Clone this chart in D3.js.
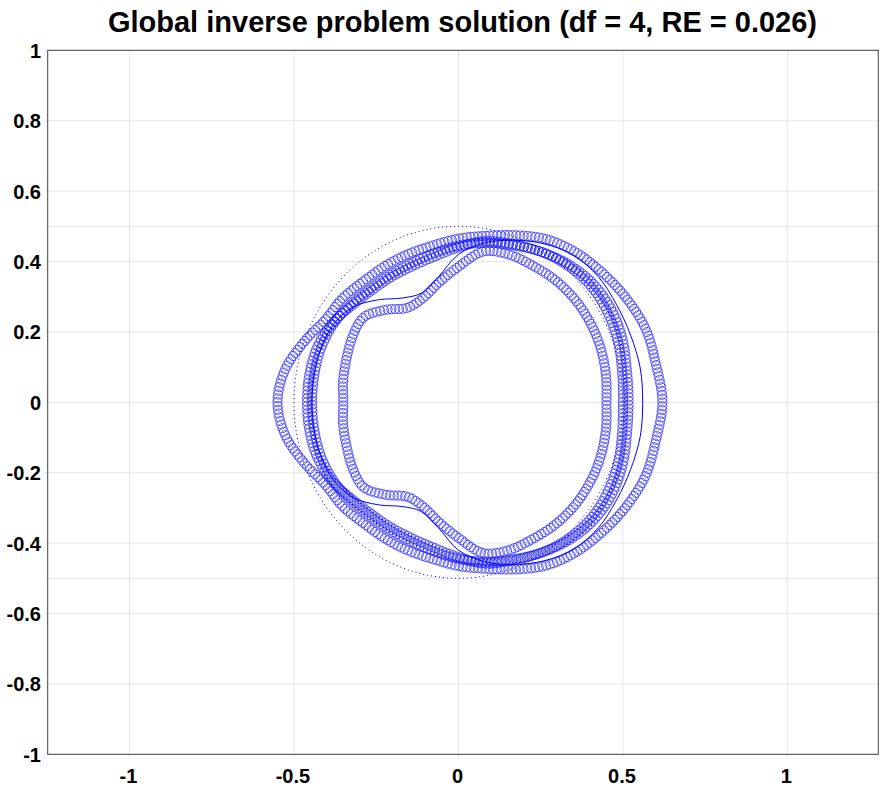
<!DOCTYPE html>
<html><head><meta charset="utf-8">
<script src="https://cdn.jsdelivr.net/npm/d3@7"></script>
<style>body{margin:0;background:#fff}svg{display:block}</style>
</head><body>
<svg id="chart" width="881" height="789"></svg>
<script>
// Title
const titleText = "Global inverse problem solution (df = 4, RE = 0.026)";
const angles = [0,10,20,30,40,50,60,70,80,90,100,110,120,130,140,150,160,170,180,190,200,210,220,230,240,250,260,270,280,290,300,310,320,330,340,350];
// Reconstruction curves (circle markers)
const outerCurve = [0.62,0.61,0.606,0.59,0.572,0.556,0.535,0.505,0.48,0.465,0.452,0.448,0.447,0.449,0.46,0.468,0.50,0.535,0.55,0.535,0.50,0.468,0.46,0.449,0.447,0.448,0.452,0.465,0.48,0.505,0.535,0.556,0.572,0.59,0.606,0.61];
const bandCurveA = [0.517,0.52,0.53,0.535,0.53,0.515,0.495,0.478,0.465,0.44,0.42,0.411,0.41,0.413,0.425,0.445,0.457,0.46,0.46,0.46,0.457,0.445,0.425,0.413,0.41,0.411,0.42,0.44,0.465,0.478,0.495,0.515,0.53,0.535,0.53,0.52];
const bandCurveB = [0.50,0.505,0.515,0.52,0.52,0.51,0.495,0.475,0.46,0.445,0.43,0.42,0.418,0.42,0.43,0.44,0.445,0.445,0.445,0.445,0.445,0.44,0.43,0.42,0.418,0.42,0.43,0.445,0.46,0.475,0.495,0.51,0.52,0.52,0.515,0.505];
const innerCurve = [0.45,0.455,0.459,0.46,0.459,0.455,0.449,0.447,0.435,0.385,0.345,0.315,0.31,0.343,0.376,0.372,0.362,0.356,0.35,0.356,0.362,0.372,0.376,0.343,0.31,0.315,0.345,0.385,0.435,0.447,0.449,0.455,0.459,0.46,0.459,0.455];
// True boundary (thin solid line)
const trueCurve = [0.56,0.561,0.557,0.555,0.555,0.545,0.52,0.49,0.46,0.42,0.36,0.33,0.342,0.38,0.42,0.44,0.445,0.445,0.445,0.445,0.445,0.44,0.42,0.38,0.342,0.33,0.36,0.42,0.46,0.49,0.52,0.545,0.555,0.555,0.557,0.561];
// Initial guess (dotted circle)
const initialCurve = [0.5,0.5,0.5,0.5,0.5,0.5,0.5,0.5,0.5,0.5,0.5,0.5,0.5,0.5,0.5,0.5,0.5,0.5,0.5,0.5,0.5,0.5,0.5,0.5,0.5,0.5,0.5,0.5,0.5,0.5,0.5,0.5,0.5,0.5,0.5,0.5];
// Axes
const xTicks = [-1,-0.5,0,0.5,1];
const yTicks = [-1,-0.8,-0.6,-0.4,-0.2,0,0.2,0.4,0.6,0.8,1];
const yExtraGrid = [-0.5,0.5];
const xDomain = [-1.2485,1.2762];
const yDomain = [-1,1];

const svg = d3.select("#chart");
const L = 47.7, R = 878.3, T = 50.3, B = 754.3;
const xs = d3.scaleLinear().domain(xDomain).range([L,R]);
const ys = d3.scaleLinear().domain(yDomain).range([B,T]);
const FONT = "Liberation Sans, Arial, sans-serif";

svg.append("text").attr("x",462.5).attr("y",32).attr("text-anchor","middle")
  .attr("font-family",FONT).attr("font-weight","bold")
  .attr("font-size",29).text(titleText);

const grid = svg.append("g").attr("stroke","#e6e6e6").attr("stroke-width",1);
xTicks.forEach(v=>grid.append("line").attr("x1",xs(v)).attr("x2",xs(v)).attr("y1",T).attr("y2",B+3));
yTicks.concat(yExtraGrid).forEach(v=>grid.append("line").attr("y1",ys(v)).attr("y2",ys(v)).attr("x1",L-3).attr("x2",R));

const lbl = svg.append("g").attr("font-family",FONT).attr("font-weight","bold").attr("font-size",20).attr("fill","#000");
xTicks.forEach(v=>lbl.append("text").attr("x",xs(v)-1).attr("y",783).attr("text-anchor","middle").text(String(v)));
yTicks.forEach(v=>lbl.append("text").attr("x",41).attr("y",ys(v)+7.5).attr("text-anchor","end").text(String(v)));

function pts(radii){
  return angles.map((a,i)=>{const t=a*Math.PI/180;return [xs(radii[i]*Math.cos(t)), ys(radii[i]*Math.sin(t))];});
}
const lineGen = d3.line().curve(d3.curveCatmullRomClosed.alpha(0.5));
const plot = svg.append("g");

plot.append("path").attr("d",lineGen(pts(initialCurve))).attr("fill","none")
  .attr("stroke","#0000ff").attr("stroke-width",1).attr("stroke-dasharray","1,3");
plot.append("path").attr("d",lineGen(pts(trueCurve))).attr("fill","none")
  .attr("stroke","#0000ff").attr("stroke-width",1);

[outerCurve,bandCurveA,bandCurveB,innerCurve].forEach(c=>{
  const p = plot.append("path").attr("d",lineGen(pts(c))).attr("fill","none").attr("stroke","none");
  const node = p.node(), len = node.getTotalLength(), n = Math.round(len/3.8);
  const g = plot.append("g").attr("fill","none").attr("stroke","#0000ff").attr("stroke-width",1).attr("stroke-opacity",0.6);
  d3.range(n).forEach(k=>{const q=node.getPointAtLength(k*len/n);g.append("circle").attr("cx",q.x).attr("cy",q.y).attr("r",4.6);});
});

svg.append("rect").attr("x",L).attr("y",T).attr("width",R-L).attr("height",B-T)
  .attr("fill","none").attr("stroke","#444").attr("stroke-width",1);
</script>
</body></html>
